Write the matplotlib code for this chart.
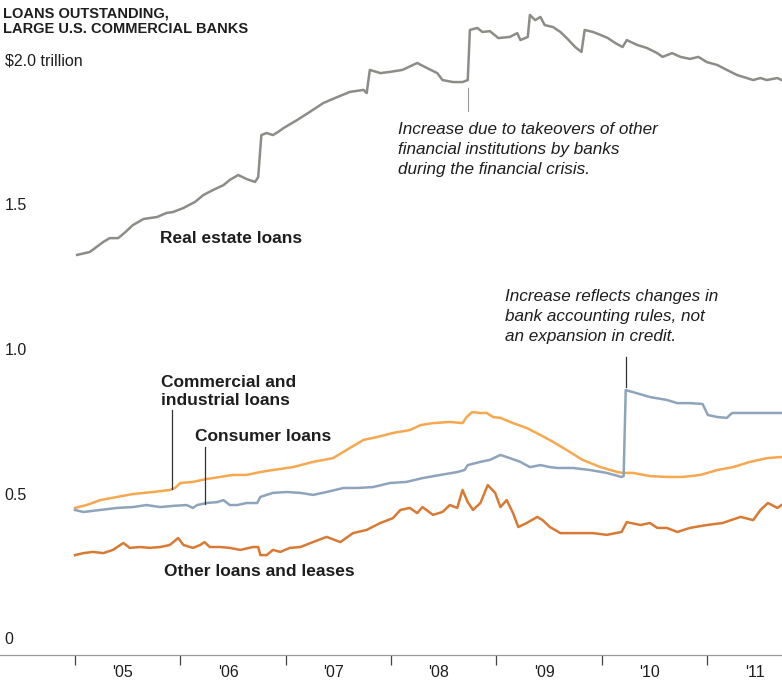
import matplotlib.pyplot as plt
from matplotlib import transforms

# decimal years and values in $ trillion
re_x = [2005.02, 2005.14, 2005.27, 2005.33, 2005.41, 2005.47, 2005.55, 2005.65, 2005.78, 2005.87,
        2005.93, 2006.03, 2006.14, 2006.22, 2006.31, 2006.41, 2006.47, 2006.55, 2006.63, 2006.71,
        2006.74, 2006.77, 2006.82, 2006.88, 2006.93, 2006.98, 2007.11, 2007.23, 2007.36, 2007.49,
        2007.61, 2007.74, 2007.77, 2007.80, 2007.90, 2007.99, 2008.11, 2008.25, 2008.34, 2008.44,
        2008.49, 2008.59, 2008.68, 2008.73, 2008.75, 2008.82, 2008.87, 2008.94, 2009.02, 2009.13,
        2009.20, 2009.23, 2009.30, 2009.32, 2009.37, 2009.42, 2009.46, 2009.54, 2009.61, 2009.67,
        2009.75, 2009.81, 2009.84, 2009.92, 2009.99, 2010.06, 2010.13, 2010.20, 2010.24, 2010.34,
        2010.43, 2010.53, 2010.58, 2010.67, 2010.75, 2010.84, 2010.92, 2011.00, 2011.10, 2011.19,
        2011.29, 2011.38, 2011.44, 2011.51, 2011.57, 2011.67, 2011.71]
re_y = [1.382, 1.392, 1.427, 1.440, 1.440, 1.458, 1.485, 1.506, 1.513, 1.527,
        1.530, 1.544, 1.565, 1.589, 1.606, 1.623, 1.641, 1.658, 1.644, 1.634,
        1.651, 1.796, 1.803, 1.796, 1.807, 1.820, 1.848, 1.876, 1.907, 1.927,
        1.945, 1.952, 1.941, 2.021, 2.010, 2.014, 2.021, 2.045, 2.028, 2.010,
        1.986, 1.979, 1.979, 1.986, 2.159, 2.166, 2.152, 2.155, 2.131, 2.135,
        2.148, 2.124, 2.135, 2.211, 2.193, 2.204, 2.176, 2.169, 2.152, 2.131,
        2.100, 2.083, 2.159, 2.152, 2.142, 2.131, 2.114, 2.100, 2.124, 2.107,
        2.097, 2.079, 2.066, 2.079, 2.066, 2.059, 2.066, 2.048, 2.038, 2.021,
        2.003, 1.993, 1.986, 1.993, 1.986, 1.993, 1.986]

ci_x = [2005.00, 2005.11, 2005.24, 2005.40, 2005.55, 2005.74, 2005.90, 2005.95, 2006.00, 2006.12,
        2006.25, 2006.38, 2006.50, 2006.63, 2006.76, 2006.88, 2007.07, 2007.26, 2007.45, 2007.61,
        2007.74, 2007.87, 2008.02, 2008.18, 2008.28, 2008.40, 2008.56, 2008.68, 2008.72, 2008.77,
        2008.85, 2008.91, 2008.97, 2009.04, 2009.16, 2009.29, 2009.42, 2009.54, 2009.67, 2009.82,
        2009.99, 2010.15, 2010.20, 2010.30, 2010.46, 2010.62, 2010.77, 2010.94, 2011.10, 2011.25,
        2011.41, 2011.57, 2011.71]
ci_y = [0.508, 0.518, 0.535, 0.546, 0.556, 0.563, 0.570, 0.577, 0.594, 0.598,
        0.608, 0.615, 0.622, 0.622, 0.632, 0.639, 0.649, 0.667, 0.680, 0.715,
        0.743, 0.753, 0.767, 0.777, 0.794, 0.801, 0.805, 0.801, 0.822, 0.839,
        0.836, 0.836, 0.822, 0.819, 0.801, 0.784, 0.760, 0.736, 0.708, 0.674,
        0.649, 0.632, 0.629, 0.629, 0.618, 0.615, 0.615, 0.622, 0.639, 0.649,
        0.667, 0.680, 0.684]

cons_x = [2005.00, 2005.08, 2005.24, 2005.40, 2005.55, 2005.68, 2005.81, 2005.93, 2006.06, 2006.12,
          2006.16, 2006.25, 2006.35, 2006.41, 2006.47, 2006.54, 2006.63, 2006.73, 2006.76, 2006.88,
          2007.01, 2007.14, 2007.26, 2007.39, 2007.55, 2007.68, 2007.83, 2007.99, 2008.15, 2008.30,
          2008.47, 2008.63, 2008.70, 2008.73, 2008.85, 2008.94, 2009.04, 2009.13, 2009.23, 2009.32,
          2009.42, 2009.51, 2009.58, 2009.73, 2009.89, 2010.05, 2010.19, 2010.21, 2010.23, 2010.30,
          2010.46, 2010.62, 2010.72, 2010.84, 2010.96, 2011.01, 2011.10, 2011.19, 2011.24, 2011.38,
          2011.57, 2011.71]
cons_y = [0.501, 0.494, 0.501, 0.508, 0.511, 0.518, 0.511, 0.515, 0.518, 0.508,
          0.518, 0.525, 0.528, 0.535, 0.518, 0.518, 0.525, 0.525, 0.546, 0.560,
          0.563, 0.560, 0.553, 0.563, 0.577, 0.577, 0.580, 0.594, 0.598, 0.611,
          0.622, 0.632, 0.639, 0.656, 0.667, 0.674, 0.691, 0.680, 0.667, 0.649,
          0.656, 0.649, 0.646, 0.646, 0.639, 0.629, 0.615, 0.618, 0.915, 0.908,
          0.891, 0.881, 0.870, 0.870, 0.867, 0.829, 0.822, 0.819, 0.836, 0.836,
          0.836, 0.836]

oth_x = [2005.00, 2005.08, 2005.17, 2005.27, 2005.36, 2005.46, 2005.52, 2005.62, 2005.71, 2005.81,
         2005.90, 2005.98, 2006.03, 2006.12, 2006.19, 2006.23, 2006.28, 2006.38, 2006.47, 2006.57,
         2006.69, 2006.74, 2006.76, 2006.82, 2006.88, 2006.95, 2007.04, 2007.14, 2007.26, 2007.39,
         2007.52, 2007.64, 2007.77, 2007.90, 2008.02, 2008.09, 2008.18, 2008.25, 2008.30, 2008.40,
         2008.49, 2008.56, 2008.63, 2008.68, 2008.73, 2008.78, 2008.85, 2008.92, 2008.99, 2009.04,
         2009.10, 2009.16, 2009.21, 2009.29, 2009.39, 2009.44, 2009.51, 2009.61, 2009.67, 2009.80,
         2009.92, 2010.05, 2010.19, 2010.24, 2010.37, 2010.46, 2010.53, 2010.62, 2010.72, 2010.84,
         2011.00, 2011.15, 2011.32, 2011.44, 2011.51, 2011.58, 2011.67, 2011.71]
oth_y = [0.345, 0.352, 0.356, 0.352, 0.363, 0.387, 0.370, 0.373, 0.370, 0.373,
         0.380, 0.404, 0.380, 0.370, 0.380, 0.390, 0.373, 0.373, 0.370, 0.363,
         0.373, 0.373, 0.345, 0.345, 0.363, 0.356, 0.370, 0.373, 0.390, 0.408,
         0.390, 0.421, 0.432, 0.456, 0.473, 0.501, 0.508, 0.490, 0.511, 0.484,
         0.494, 0.518, 0.508, 0.570, 0.528, 0.501, 0.525, 0.587, 0.560, 0.511,
         0.535, 0.490, 0.442, 0.456, 0.477, 0.466, 0.442, 0.421, 0.421, 0.421,
         0.421, 0.415, 0.425, 0.459, 0.449, 0.456, 0.439, 0.439, 0.425, 0.439,
         0.449, 0.456, 0.477, 0.466, 0.501, 0.525, 0.508, 0.518]

years = [2005, 2006, 2007, 2008, 2009, 2010, 2011]
year_labels = ["'05", "'06", "'07", "'08", "'09", "'10", "'11"]
y_ticks = [0, 0.5, 1.0, 1.5, 2.0]
y_tick_labels = ["0", "0.5", "1.0", "1.5", "$2.0 trillion"]

plt.rcParams['font.family'] = ['Liberation Sans', 'DejaVu Sans']

fig = plt.figure(figsize=(7.82, 6.83), dpi=100)
ax = fig.add_axes([0, 28 / 683, 1, 655 / 683])
ax.set_xlim(2004.288, 2011.714)
ax.set_ylim(0, 2.2625)

ax.plot(re_x, re_y, color='#8b8d87', lw=1.8, solid_joinstyle='round')
ax.plot(ci_x, ci_y, color='#f6a84e', lw=1.8, solid_joinstyle='round')
ax.plot(cons_x, cons_y, color='#8ea4bc', lw=1.8, solid_joinstyle='round')
ax.plot(oth_x, oth_y, color='#d97a34', lw=1.8, solid_joinstyle='round')

for s in ['top', 'right', 'left']:
    ax.spines[s].set_visible(False)
ax.spines['bottom'].set_color('#9a9a9a')
ax.spines['bottom'].set_linewidth(0.9)
ax.set_yticks([])
ax.set_xticks(years)
ax.set_xticklabels([])
ax.tick_params(axis='x', direction='out', length=7, width=0.9, color='#444444')
ax.set_xticks([y + 0.455 for y in years], minor=True)
ax.set_xticklabels(year_labels, minor=True)
ax.tick_params(axis='x', which='minor', length=0, pad=7, labelsize=11.5, labelcolor='#1e1e1e')

# value labels sit just above their level
up = transforms.offset_copy(ax.get_yaxis_transform(), fig=fig, x=0, y=15, units='dots')
for v, lab in zip(y_ticks, y_tick_labels):
    ax.text(0.006, v, lab, transform=up, fontsize=11.5, va='center', ha='left', color='#1e1e1e')

fig.text(0.004, 1 - 6 / 683, "LOANS OUTSTANDING,\nLARGE U.S. COMMERCIAL BANKS",
         fontsize=10.5, fontweight='bold', va='top', ha='left', color='#1e1e1e', linespacing=1.2)

bold = dict(fontsize=12.5, fontweight='bold', color='#1e1e1e', ha='left', va='center')
ital = dict(fontsize=12.3, fontstyle='italic', color='#1e1e1e', ha='left', va='center', linespacing=1.45)

ax.text(2005.81, 1.44, "Real estate loans", **bold)
ax.text(2005.82, 0.91, "Commercial and\nindustrial loans", linespacing=1.3, **bold)
ax.text(2006.14, 0.756, "Consumer loans", **bold)
ax.text(2005.85, 0.287, "Other loans and leases", **bold)

ax.text(2008.07, 1.746, "Increase due to takeovers of other\nfinancial institutions by banks\nduring the financial crisis.", **ital)
ax.text(2009.08, 1.169, "Increase reflects changes in\nbank accounting rules, not\nan expansion in credit.", **ital)

# leader lines
ax.plot([2008.73, 2008.73], [1.88, 1.96], color='#999999', lw=0.8)
ax.plot([2010.23, 2010.23], [0.925, 1.03], color='#333333', lw=0.9)
ax.plot([2005.92, 2005.92], [0.573, 0.845], color='#333333', lw=0.9)
ax.plot([2006.23, 2006.23], [0.52, 0.72], color='#333333', lw=0.9)

fig.savefig('out.png', dpi=100)
